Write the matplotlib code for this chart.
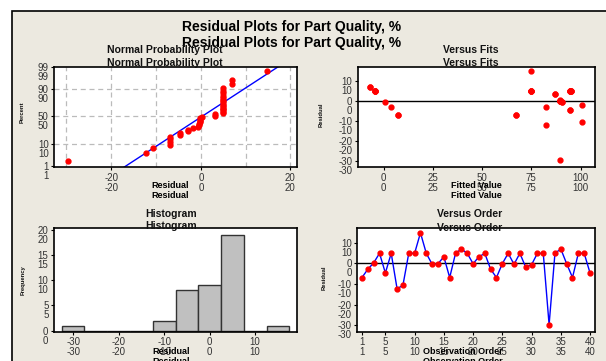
import numpy as np
import matplotlib
matplotlib.use("Agg")
import matplotlib.pyplot as plt
from matplotlib.patches import Rectangle
from statistics import NormalDist

# residuals in observation order
residuals = [-6.8, -2.8, 0.3, 4.9, -4.6, 4.9, -12.2, -10.6, 4.9, 4.9,
             14.8, 4.9, -0.4, -0.1, 3.2, -6.8, 4.9, 7.0, 4.9, -0.1,
             3.2, 4.9, -2.8, -6.8, -0.1, 4.9, -0.4, 4.9, -1.8, -0.6,
             4.9, 4.9, -29.6, 4.9, 7.0, -0.1, -6.8, 4.9, 4.9, -4.6]
fits = [7.3, 3.6, 89.8, -4.4, 94.7, 75.1, 82.4, 100.8, 94.7, 95.4,
        75.1, -4.4, 90.5, 89.8, 87.1, 67.3, 75.1, -7.1, 94.7, 89.8,
        87.1, 95.4, 82.4, 7.3, 89.8, -4.4, 90.5, 75.1, 100.8, 0.8,
        94.7, 95.4, 89.8, -4.4, -7.1, 89.8, 67.3, 75.1, 94.7, 94.7]

hist_centers = [-30, -25, -20, -15, -10, -5, 0, 5, 10, 15]
hist_counts = [1, 0, 0, 0, 2, 8, 9, 19, 0, 1]

prob_ticks = [1, 10, 50, 90, 99]
order_ticks = [1, 5, 10, 15, 20, 25, 30, 35, 40]

W, H = 606, 361
beige = "#ECE9E0"
plt.rcParams["font.family"] = ["Liberation Sans", "DejaVu Sans"]

fig = plt.figure(figsize=(W / 100, H / 100), dpi=100)
fig.patch.set_facecolor("white")
fig.add_artist(Rectangle((12 / W, -0.05), 1.2, 1.05 - 11 / H, transform=fig.transFigure,
                         facecolor=beige, edgecolor="black", lw=1.2, zorder=-10))


def box(l, t, r, b):
    return [l / W, 1 - b / H, (r - l) / W, (b - t) / H]


def ftext(x, y, s, **kw):
    fig.text(x / W, 1 - y / H, s, ha="center", va="center", **kw)


def ghost(ax, xticks, xlabels, yticks, ylabels):
    # the reference repeats every tick label about 10 px lower
    ax.set_xticks(xticks)
    ax.set_xticklabels(xlabels)
    ax.set_yticks(yticks)
    ax.set_yticklabels(ylabels)
    ax.tick_params(labelsize=7, labelcolor="#333333", length=2, width=0.8, pad=2)
    for v, s in zip(xticks, xlabels):
        ax.annotate(s, xy=(v, 0), xycoords=("data", "axes fraction"), xytext=(0, -4 - 7.2),
                    textcoords="offset points", ha="center", va="top", fontsize=7,
                    color="#333333", annotation_clip=False)
    for v, s in zip(yticks, ylabels):
        ax.annotate(s, xy=(0, v), xycoords=("axes fraction", "data"), xytext=(-4, -7.2),
                    textcoords="offset points", ha="right", va="center", fontsize=7,
                    color="#333333", annotation_clip=False)
    for sp in ax.spines.values():
        sp.set_linewidth(1.2)


title_kw = dict(fontsize=7.5, fontweight="bold", color="#111111")
ylab_kw = dict(fontsize=4.2, fontweight="bold", rotation=90, color="#111111")

# main title
ftext(292, 27, "Residual Plots for Part Quality, %", fontsize=10, fontweight="bold")
ftext(292, 43, "Residual Plots for Part Quality, %", fontsize=10, fontweight="bold")

# normal probability plot
ax1 = fig.add_axes(box(54.3, 66.7, 296.7, 167.3))
nd = NormalDist()
r = np.array(residuals)
n = len(r)
srt = np.sort(r)
pos = (np.arange(1, n + 1) - 0.3) / (n + 0.4)
zs = np.array([nd.inv_cdf(p) for p in pos])
for g in [-30, -20, -10, 0, 10, 20]:
    ax1.axvline(g, color="#BBBBBB", ls=(0, (4, 3)), lw=0.9, zorder=0)
for p in [10, 50, 90]:
    ax1.axhline(nd.inv_cdf(p / 100), color="#BBBBBB", ls=(0, (4, 3)), lw=0.9, zorder=0)
mu, sd = r.mean(), r.std(ddof=1)
zl = np.array([-3, 3])
ax1.plot(mu + sd * zl, zl, color="blue", lw=1)
ax1.plot(srt, zs, "o", color="red", ms=3.5, mec="red")
ax1.set_xlim(-32.7, 21.4)
ax1.set_ylim(-2.39, 2.33)
ghost(ax1, [-20, 0, 20], ["-20", "0", "20"],
      [nd.inv_cdf(p / 100) for p in prob_ticks], [str(p) for p in prob_ticks])
ftext(165, 50, "Normal Probability Plot", **title_kw)
ftext(165, 63, "Normal Probability Plot", **title_kw)
ftext(170, 186, "Residual", fontsize=6.5, fontweight="bold")
ftext(170, 196, "Residual", fontsize=6.5, fontweight="bold")
ftext(22, 112, "Percent", **ylab_kw)

# versus fits
ax2 = fig.add_axes(box(358, 66.7, 595.3, 167.3))
ax2.axhline(0, color="black", lw=1)
ax2.plot(fits, residuals, "o", color="red", ms=3.5, mec="red")
ax2.set_xlim(-13, 107.5)
ax2.set_ylim(-33, 17)
ghost(ax2, [0, 25, 50, 75, 100], ["0", "25", "50", "75", "100"],
      [-30, -20, -10, 0, 10], ["-30", "-20", "-10", "0", "10"])
ftext(471, 50, "Versus Fits", **title_kw)
ftext(471, 63, "Versus Fits", **title_kw)
ftext(476, 186, "Fitted Value", fontsize=6.5, fontweight="bold")
ftext(476, 196, "Fitted Value", fontsize=6.5, fontweight="bold")
ftext(321, 115, "Residual", **ylab_kw)

# histogram
ax3 = fig.add_axes(box(54, 228, 297, 331.7))
ax3.bar(hist_centers, hist_counts, width=5, color="#C0C0C0", edgecolor="#333333", lw=1)
ax3.set_xlim(-34.2, 19.2)
ax3.set_ylim(-0.2, 20.3)
ghost(ax3, [-30, -20, -10, 0, 10], ["-30", "-20", "-10", "0", "10"],
      [0, 5, 10, 15, 20], ["0", "5", "10", "15", "20"])
ftext(171, 214, "Histogram", **title_kw)
ftext(171, 226, "Histogram", **title_kw)
ftext(171, 351, "Residual", fontsize=6.5, fontweight="bold")
ftext(171, 361, "Residual", fontsize=6.5, fontweight="bold")
ftext(23, 280, "Frequency", **ylab_kw)

# versus order
ax4 = fig.add_axes(box(357.3, 228.3, 595.3, 331.7))
obs = np.arange(1, n + 1)
ax4.axhline(0, color="black", lw=1)
ax4.plot(obs, residuals, "-", color="blue", lw=1)
ax4.plot(obs, residuals, "o", color="red", ms=3.5, mec="red")
ax4.set_xlim(0.2, 40.9)
ax4.set_ylim(-33, 17)
ghost(ax4, order_ticks, [str(t) for t in order_ticks],
      [-30, -20, -10, 0, 10], ["-30", "-20", "-10", "0", "10"])
ftext(470, 214, "Versus Order", **title_kw)
ftext(470, 228, "Versus Order", **title_kw)
ftext(463, 351, "Observation Order", fontsize=6.5, fontweight="bold")
ftext(463, 361, "Observation Order", fontsize=6.5, fontweight="bold")
ftext(324, 278, "Residual", **ylab_kw)

fig.savefig("out.png", dpi=100)
